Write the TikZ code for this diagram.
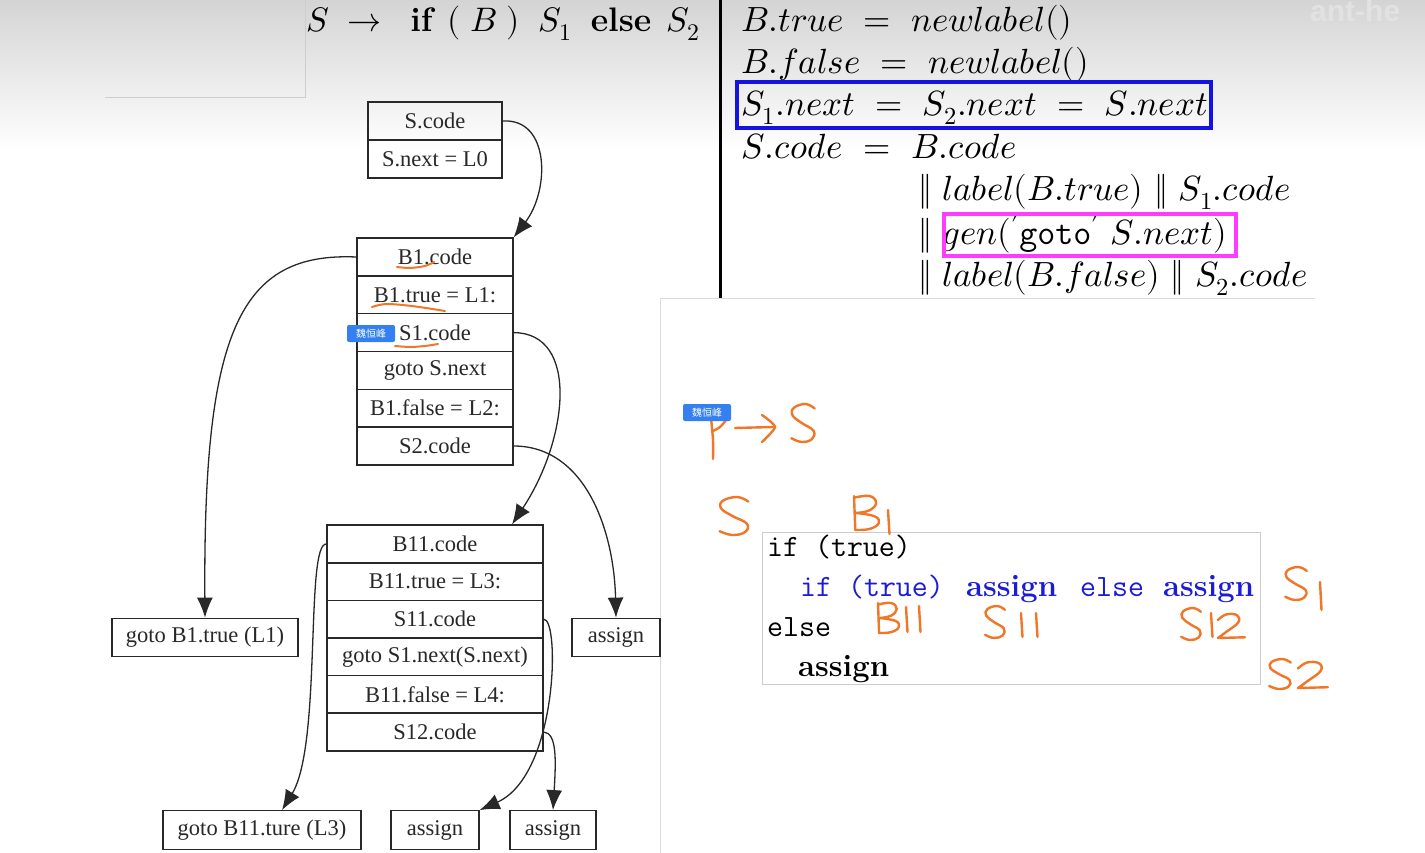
\documentclass[tikz,border=0pt]{standalone}
\usepackage{fontspec}
\usepackage{unicode-math}
\setmathfont{Latin Modern Math}
\usetikzlibrary{arrows.meta,calc}
\newfontfamily\diagfont{Liberation Serif}
\newfontfamily\cjkfont{Noto Sans CJK SC}
\newfontfamily\wmfont{Liberation Sans}
\definecolor{handorange}{RGB}{240,118,40}
\definecolor{tagblue}{RGB}{52,128,240}
\definecolor{codeblue}{RGB}{28,28,215}
\definecolor{boxblue}{RGB}{20,20,225}
\definecolor{boxpink}{RGB}{255,60,255}
\definecolor{bgtop}{RGB}{212,212,212}
\definecolor{wmgray}{RGB}{226,226,226}
\definecolor{rulegray}{RGB}{205,205,205}
\definecolor{inkgray}{RGB}{40,40,40}

% hand-written glyphs: x, y (top left), width, height
\newcommand\handS[4]{\draw[hand] plot[smooth,tension=0.7] coordinates {
  ({#1+0.95*#3},{#2+0.12*#4}) ({#1+0.6*#3},{#2}) ({#1+0.15*#3},{#2+0.1*#4})
  ({#1+0.1*#3},{#2+0.3*#4}) ({#1+0.45*#3},{#2+0.5*#4}) ({#1+0.9*#3},{#2+0.7*#4})
  ({#1+0.85*#3},{#2+0.92*#4}) ({#1+0.45*#3},{#2+#4}) ({#1+0.05*#3},{#2+0.9*#4})};}
\newcommand\handB[4]{\draw[hand] ({#1},{#2}) -- ({#1+0.05*#3},{#2+#4});
  \draw[hand] plot[smooth,tension=0.7] coordinates {
  ({#1},{#2+0.05*#4}) ({#1+0.6*#3},{#2}) ({#1+0.85*#3},{#2+0.2*#4})
  ({#1+0.6*#3},{#2+0.42*#4}) ({#1+0.1*#3},{#2+0.5*#4})};
  \draw[hand] plot[smooth,tension=0.7] coordinates {
  ({#1+0.1*#3},{#2+0.5*#4}) ({#1+0.8*#3},{#2+0.6*#4}) ({#1+0.95*#3},{#2+0.8*#4})
  ({#1+0.6*#3},{#2+0.97*#4}) ({#1+0.05*#3},{#2+#4})};}
\newcommand\handOne[3]{\draw[hand] ({#1},{#2}) -- ({#1+1.5},{#3});}
\newcommand\handTwo[4]{\draw[hand] plot[smooth,tension=0.7] coordinates {
  ({#1},{#2+0.25*#4}) ({#1+0.3*#3},{#2+0.02*#4}) ({#1+0.7*#3},{#2+0.05*#4})
  ({#1+0.75*#3},{#2+0.35*#4}) ({#1+0.3*#3},{#2+0.75*#4}) ({#1},{#2+#4})}
  -- ({#1+#3},{#2+0.97*#4});}

\begin{document}
\begin{tikzpicture}[x=1pt,y=-1pt,
  row/.style={draw=inkgray, line width=1.3pt, inner sep=0pt, minimum height=37.8pt,
    text=inkgray, font=\diagfont\fontsize{22.5}{25}\selectfont},
  leaf/.style={row, minimum height=38.5pt},
  link/.style={draw=inkgray, line width=1.3pt, -{Latex[length=20pt,width=16pt]}},
  hand/.style={draw=handorange, line width=2.4pt, line cap=round, line join=round},
  tag/.style={fill=tagblue, rounded corners=2pt, text=white, inner sep=0pt,
    minimum width=48pt, minimum height=17pt, font=\cjkfont\fontsize{10}{12}\selectfont},
  eq/.style={anchor=base west, inner sep=0pt, font=\fontsize{35}{40}\selectfont},
  code/.style={anchor=base west, inner sep=0pt, font=\ttfamily\fontsize{31}{36}\selectfont},
  word/.style={anchor=base west, inner sep=0pt, font=\rmfamily\bfseries\fontsize{31}{36}\selectfont}
]
\useasboundingbox (0,0) rectangle (1425,853);

% background
\fill[top color=bgtop, bottom color=white] (0,0) rectangle (1425,150);
\fill[white] (0,150) rectangle (1425,853);
\draw[rulegray, line width=0.8pt] (105,97) -- (305,97) -- (305,0);
\draw[line width=3pt] (720,0) -- (720,298);
\fill[white] (660,298) rectangle (1425,853);
\draw[rulegray!70, line width=0.8pt] (1315,298) -- (660,298) -- (660,853);

% watermark
\node[anchor=base west, inner sep=0pt, text=wmgray,
  font=\wmfont\bfseries\fontsize{30}{30}\selectfont] (wm) at (1310,22) {ant-he};

% production
\node[eq, font=\fontsize{34}{40}\selectfont] (prod) at (306,32)
  {$S \;\rightarrow\;\; \mathbf{if}\;\,(\;B\;)\;\;S_1\;\;\mathbf{else}\;\,S_2$};

% semantic rules
\node[eq] (r1) at (741,32) {$B.true \ =\ newlabel()$};
\node[eq] (r2) at (741,74) {$B.false \ =\ newlabel()$};
\node[eq] (r3) at (741,116) {$S_1.next \ =\ S_2.next \ =\ S.next$};
\node[eq] (r4) at (741,159) {$S.code \ =\ B.code$};
\node[eq] (r5) at (918,201) {$\|\ label(B.true)\ \|\ S_1.code$};
\node[eq] (r6) at (918,245) {$\|\ gen({}'\mbox{\ttfamily goto}{}'\ S.next)$};
\node[eq] (r7) at (918,287) {$\|\ label(B.false)\ \|\ S_2.code$};
\draw[boxblue, line width=3.5pt] (737,82) rectangle (1211,128);
\draw[boxpink, line width=3.5pt] (944,214) rectangle (1236,256);

% code tree
\node[row, minimum width=134pt] (scode) at (435,121) {S.code};
\node[row, minimum width=134pt] (snext) at (435,159) {S.next = L0};

\node[row, minimum width=156pt] (b1code)  at (435,257)   {B1.code};
\node[row, minimum width=156pt] (b1true)  at (435,294.8) {B1.true = L1:};
\node[row, minimum width=156pt] (s1code)  at (435,332.6) {S1.code};
\node[row, minimum width=156pt] (gotos)   at (435,370.4) {goto S.next};
\node[row, minimum width=156pt] (b1false) at (435,408.2) {B1.false = L2:};
\node[row, minimum width=156pt] (s2code)  at (435,446)   {S2.code};

\node[row, minimum width=216pt] (b11code)  at (435,544)   {B11.code};
\node[row, minimum width=216pt] (b11true)  at (435,581.6) {B11.true = L3:};
\node[row, minimum width=216pt] (s11code)  at (435,619.2) {S11.code};
\node[row, minimum width=216pt] (gotos1)   at (435,656.8) {goto S1.next(S.next)};
\node[row, minimum width=216pt] (b11false) at (435,694.4) {B11.false = L4:};
\node[row, minimum width=216pt] (s12code)  at (435,732)   {S12.code};

\node[leaf, minimum width=186pt] (gotoL1)  at (205,637.5) {goto B1.true (L1)};
\node[leaf, minimum width=88pt]  (assignR) at (616,637.5) {assign};
\node[leaf, minimum width=198pt] (gotoL3)  at (262,830)   {goto B11.ture (L3)};
\node[leaf, minimum width=88pt]  (assign2) at (435,830)   {assign};
\node[leaf, minimum width=86pt]  (assign3) at (553,830)   {assign};

\draw[link] (scode.east) .. controls (550,118) and (550,190) .. (b1code.north east);
\draw[link] (b1code.west) .. controls (240,252) and (203,330) .. (gotoL1.north);
\draw[link] (s1code.east) .. controls (580,333) and (568,440) .. ([xshift=77pt]b11code.north);
\draw[link] (s2code.east) .. controls (585,446) and (614,530) .. (assignR.north);
\draw[link] (b11code.west) .. controls (305,543) and (322,745) .. ([xshift=20pt]gotoL3.north);
\draw[link] (s11code.east) .. controls (560,618) and (558,775) .. (assign2.north east);
\draw[link] (s12code.east) .. controls (557,733) and (556,760) .. (assign3.north);

% underlines in the tree
\draw[hand, line width=2pt] plot[smooth] coordinates {(397,267) (410,268) (425,266) (434,262)};
\draw[hand, line width=2pt] plot[smooth] coordinates {(372,307) (386,304) (412,306) (445,311)};
\draw[hand, line width=2pt] plot[smooth] coordinates {(395,346) (410,347) (425,346) (438,344)};

% example program
\draw[rulegray, line width=1pt] (762,532) rectangle (1260,684);
\node[code] (c1) at (767,556) {if (true)};
\node[code, text=codeblue] (c2a) at (800,596) {if (true)};
\node[word, text=codeblue] (c2b) at (966,596) {assign};
\node[code, text=codeblue] (c2c) at (1080,596) {else};
\node[word, text=codeblue] (c2d) at (1163,596) {assign};
\node[code] (c3) at (767,636) {else};
\node[word] (c4) at (798,676) {assign};

% hand-written notes
\draw[hand] plot[smooth] coordinates {(711,418) (713,440) (713,459)};
\draw[hand] plot[smooth] coordinates {(713,431) (720,427) (727,419)};
\draw[hand] (735,428) -- (773,427);
\draw[hand] plot[smooth,tension=0.4] coordinates {(762,415) (775,427) (762,442)};
\handS{790}{404}{26}{38}
\handS{718}{497}{32}{38}
\handB{854}{496}{26}{34}
\handOne{888}{510}{534}
\handS{1284}{567}{24}{33}
\handOne{1320}{582}{610}
\handB{878}{603}{22}{30}
\handOne{906}{607}{632}
\handOne{919}{606}{632}
\handS{984}{606}{22}{32}
\handOne{1021}{613}{637}
\handOne{1036}{613}{637}
\handS{1180}{608}{22}{32}
\handOne{1211}{613}{637}
\handTwo{1218}{614}{27}{24}
\handS{1268}{659}{24}{30}
\handTwo{1298}{662}{30}{26}

% name tags
\node[tag] (tag1) at (371,333.5) {魏恒峰};
\node[tag] (tag2) at (707,412.5) {魏恒峰};
\end{tikzpicture}
\end{document}
